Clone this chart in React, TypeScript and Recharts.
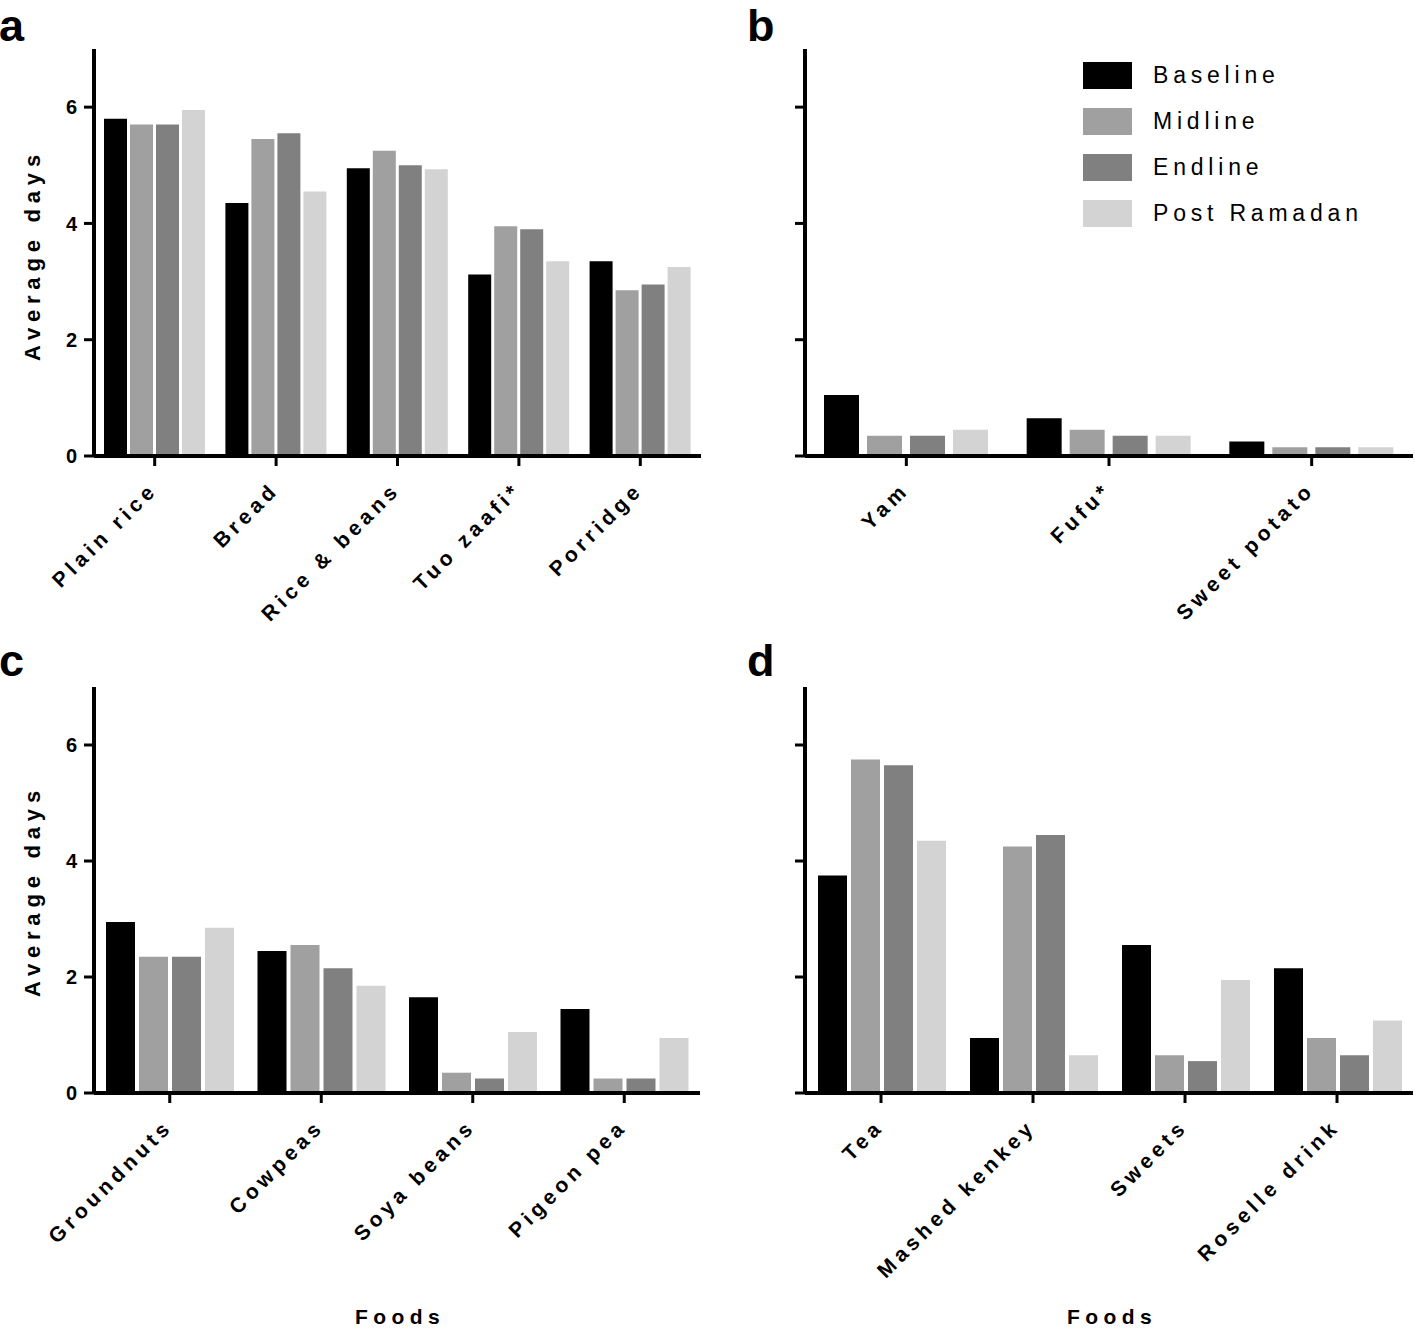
import React from 'react';
import { BarChart, Bar, XAxis, YAxis, Legend } from 'recharts';

const FONT = "'Liberation Sans', Arial, Helvetica, sans-serif";

const seriesKeys = ['b', 'm', 'e', 'p'];
const seriesNames = ['Baseline', 'Midline', 'Endline', 'Post Ramadan'];
const seriesColors = ['#000000', '#a0a0a0', '#808080', '#d3d3d3'];
const yTicks = [0, 2, 4, 6];

// Panel a
const catsA = ['Plain rice', 'Bread', 'Rice & beans', 'Tuo zaafi*', 'Porridge'];
const baselineA = [5.8, 4.35, 4.95, 3.12, 3.35];
const midlineA = [5.7, 5.45, 5.25, 3.95, 2.85];
const endlineA = [5.7, 5.55, 5.0, 3.9, 2.95];
const postA = [5.95, 4.55, 4.93, 3.35, 3.25];

// Panel b
const catsB = ['Yam', 'Fufu*', 'Sweet potato'];
const baselineB = [1.05, 0.65, 0.25];
const midlineB = [0.35, 0.45, 0.15];
const endlineB = [0.35, 0.35, 0.15];
const postB = [0.45, 0.35, 0.15];

// Panel c
const catsC = ['Groundnuts', 'Cowpeas', 'Soya beans', 'Pigeon pea'];
const baselineC = [2.95, 2.45, 1.65, 1.45];
const midlineC = [2.35, 2.55, 0.35, 0.25];
const endlineC = [2.35, 2.15, 0.25, 0.25];
const postC = [2.85, 1.85, 1.05, 0.95];

// Panel d
const catsD = ['Tea', 'Mashed kenkey', 'Sweets', 'Roselle drink'];
const baselineD = [3.75, 0.95, 2.55, 2.15];
const midlineD = [5.75, 4.25, 0.65, 0.95];
const endlineD = [5.65, 4.45, 0.55, 0.65];
const postD = [4.35, 0.65, 1.95, 1.25];

const build = (cats: string[], b: number[], m: number[], e: number[], p: number[]) =>
  cats.map((name, i) => ({ name, b: b[i], m: m[i], e: e[i], p: p[i] }));

const dataA = build(catsA, baselineA, midlineA, endlineA, postA);
const dataB = build(catsB, baselineB, midlineB, endlineB, postB);
const dataC = build(catsC, baselineC, midlineC, endlineC, postC);
const dataD = build(catsD, baselineD, midlineD, endlineD, postD);

const XTick = (props: any) => {
  const { x, y, payload } = props;
  return (
    <g transform={`translate(${x + 4},${y + 23})`}>
      <text
        x={0}
        y={0}
        transform="rotate(-45)"
        textAnchor="end"
        fontFamily={FONT}
        fontWeight={700}
        fontSize={21}
        letterSpacing={4.5}
        fill="#000"
      >
        {payload.value}
      </text>
    </g>
  );
};

const LegendContent = (props: any) => {
  const payload = [...(props.payload || [])].sort(
    (a: any, b: any) => seriesNames.indexOf(a.value) - seriesNames.indexOf(b.value)
  );
  return (
    <div style={{ fontFamily: FONT }}>
      {payload.map((entry: any, i: number) => (
        <div key={i} style={{ display: 'flex', alignItems: 'center', height: 46 }}>
          <div style={{ width: 49, height: 27, background: entry.color, marginRight: 21 }} />
          <span style={{ fontSize: 23, letterSpacing: 4.8, color: '#000' }}>{entry.value}</span>
        </div>
      ))}
    </div>
  );
};

type PanelProps = {
  left: number;
  top: number;
  width: number;
  height: number;
  data: any[];
  marginTop: number;
  marginRight: number;
  yWidth: number;
  xHeight: number;
  marginBottom: number;
  showYLabels: boolean;
  catGap: number;
  barGap: number;
  legend?: boolean;
};

const Panel = (p: PanelProps) => (
  <div style={{ position: 'absolute', left: p.left, top: p.top }}>
    <BarChart
      width={p.width}
      height={p.height}
      data={p.data}
      margin={{ top: p.marginTop, right: p.marginRight, bottom: p.marginBottom, left: 0 }}
      barCategoryGap={p.catGap}
      barGap={p.barGap}
    >
      <XAxis
        dataKey="name"
        height={p.xHeight}
        interval={0}
        tickSize={10}
        axisLine={{ stroke: '#000', strokeWidth: 4 }}
        tickLine={{ stroke: '#000', strokeWidth: 3 }}
        tick={<XTick />}
      />
      <YAxis
        width={p.yWidth}
        domain={[0, 7]}
        ticks={yTicks}
        interval={0}
        allowDataOverflow
        tickSize={10}
        tickMargin={7}
        axisLine={{ stroke: '#000', strokeWidth: 4 }}
        tickLine={{ stroke: '#000', strokeWidth: 3 }}
        tick={{ fill: '#000', fontSize: 20, fontWeight: 700, fontFamily: FONT }}
        tickFormatter={(v: number) => (p.showYLabels ? String(v) : '')}
      />
      {p.legend && (
        <Legend
          layout="vertical"
          verticalAlign="middle"
          align="center"
          content={<LegendContent />}
          wrapperStyle={{ position: 'absolute', left: 373, top: 52, width: 320 }}
        />
      )}
      {seriesKeys.map((k, i) => (
        <Bar key={k} dataKey={k} name={seriesNames[i]} fill={seriesColors[i]} isAnimationActive={false} />
      ))}
    </BarChart>
  </div>
);

const textStyle = { fontFamily: FONT, fontWeight: 700 } as const;

export default function App() {
  return (
    <div style={{ position: 'absolute', left: 0, top: 0, width: 1416, height: 1329, background: '#fff', overflow: 'hidden' }}>
      <Panel left={0} top={0} width={720} height={640} data={dataA} marginTop={49} marginRight={19}
        yWidth={94} xHeight={180} marginBottom={4} showYLabels catGap={10} barGap={3} />
      <Panel left={710} top={0} width={706} height={640} data={dataB} marginTop={49} marginRight={3}
        yWidth={95} xHeight={180} marginBottom={4} showYLabels={false} catGap={19} barGap={8} legend />
      <Panel left={0} top={640} width={720} height={689} data={dataC} marginTop={47} marginRight={20}
        yWidth={94} xHeight={230} marginBottom={6} showYLabels catGap={12} barGap={4} />
      <Panel left={710} top={640} width={706} height={689} data={dataD} marginTop={47} marginRight={3}
        yWidth={95} xHeight={230} marginBottom={6} showYLabels={false} catGap={13} barGap={4} />
      <svg width={1416} height={1329} style={{ position: 'absolute', left: 0, top: 0, pointerEvents: 'none' }}>
        <text x={-1} y={41} fontSize={45} {...textStyle}>a</text>
        <text x={747} y={41} fontSize={45} {...textStyle}>b</text>
        <text x={-1} y={676} fontSize={45} {...textStyle}>c</text>
        <text x={747} y={676} fontSize={45} {...textStyle}>d</text>
        <text transform="translate(40,255) rotate(-90)" textAnchor="middle" fontSize={22} letterSpacing={5.8} {...textStyle}>Average days</text>
        <text transform="translate(40,891) rotate(-90)" textAnchor="middle" fontSize={22} letterSpacing={5.8} {...textStyle}>Average days</text>
        <text x={400} y={1324} textAnchor="middle" fontSize={21} letterSpacing={5.4} {...textStyle}>Foods</text>
        <text x={1112} y={1324} textAnchor="middle" fontSize={21} letterSpacing={5.4} {...textStyle}>Foods</text>
      </svg>
    </div>
  );
}
